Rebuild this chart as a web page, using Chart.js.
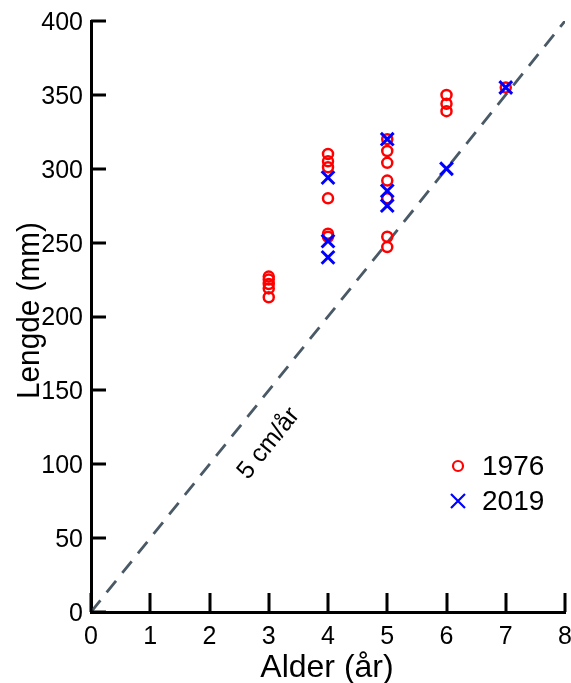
<!DOCTYPE html>
<html>
<head>
<meta charset="utf-8">
<script src="https://cdn.jsdelivr.net/npm/chart.js@4/dist/chart.umd.min.js"></script>
<style>
  html, body { margin: 0; padding: 0; background: #fff; }
  #wrap { width: 571px; height: 683px; position: relative; }
  canvas { display: block; }
</style>
</head>
<body>
<div id="wrap"><canvas id="c" width="571" height="683"></canvas></div>
<script>
// Fish length by age, two sampling years
const ages1976 = [3, 3, 3, 3, 3, 4, 4, 4, 4, 4, 4, 5, 5, 5, 5, 5, 5, 5, 6, 6, 6, 7];
const lengths1976 = [213, 219, 222, 225, 227, 310, 305, 301, 280, 256, 254, 320, 312, 304, 292, 280, 254, 247, 350, 344, 339, 355];
const ages2019 = [4, 4, 4, 5, 5, 5, 6, 7];
const lengths2019 = [294, 251, 240, 320, 285, 275, 300, 355];

// Reference growth line: 5 cm per year
const refAges = [0, 8];
const refLengths = [0, 400];
const refLabel = '5 cm/år';

const xTicks = [0, 1, 2, 3, 4, 5, 6, 7, 8];
const yTicks = [0, 50, 100, 150, 200, 250, 300, 350, 400];

const seriesNames = ['1976', '2019'];
const xTitle = 'Alder (år)';
const yTitle = 'Lengde (mm)';

const FONT = '"Liberation Sans", Arial, Helvetica, sans-serif';
const RED = '#ff0000';
const BLUE = '#0000ff';

const toPoints = (xs, ys) => xs.map((x, i) => ({ x: x, y: ys[i] }));

// Inward tick marks, tick labels, axis titles, line label and legend
const decorations = {
  id: 'decorations',
  afterDraw(chart) {
    const { ctx, chartArea: a, scales: { x, y } } = chart;
    ctx.save();
    ctx.strokeStyle = '#000';
    ctx.lineWidth = 3;
    ctx.beginPath();
    xTicks.forEach(v => {
      const px = Math.round(x.getPixelForValue(v));
      ctx.moveTo(px, a.bottom);
      ctx.lineTo(px, a.bottom - 19);
    });
    yTicks.forEach(v => {
      const py = Math.round(y.getPixelForValue(v));
      ctx.moveTo(a.left, py);
      ctx.lineTo(a.left + 15, py);
    });
    ctx.stroke();

    // tick labels
    ctx.fillStyle = '#000';
    ctx.font = '25px ' + FONT;
    ctx.textBaseline = 'middle';
    ctx.textAlign = 'center';
    xTicks.forEach(v => {
      ctx.fillText(String(v), x.getPixelForValue(v), a.bottom + 25);
    });
    ctx.textAlign = 'right';
    yTicks.forEach(v => {
      ctx.fillText(String(v), a.left - 8, y.getPixelForValue(v) + 2);
    });

    // axis titles
    ctx.font = '32px ' + FONT;
    ctx.textAlign = 'center';
    ctx.textBaseline = 'alphabetic';
    ctx.fillText(xTitle, (a.left + a.right) / 2 - 1, 677);
    ctx.save();
    ctx.translate(39, (a.top + a.bottom) / 2 - 6);
    ctx.rotate(-Math.PI / 2);
    ctx.scale(0.93, 1);
    ctx.fillText(yTitle, 0, 0);
    ctx.restore();

    // label along the reference line
    const ang = Math.atan2(
      y.getPixelForValue(refLengths[1]) - y.getPixelForValue(refLengths[0]),
      x.getPixelForValue(refAges[1]) - x.getPixelForValue(refAges[0]));
    ctx.save();
    ctx.translate(x.getPixelForValue(3.0), y.getPixelForValue(114));
    ctx.rotate(ang);
    ctx.font = '25px ' + FONT;
    ctx.textAlign = 'center';
    ctx.textBaseline = 'middle';
    ctx.fillText(refLabel, 0, 0);
    ctx.restore();

    // legend
    const lx = 458;
    const rows = [466, 501];
    ctx.lineWidth = 2.2;
    ctx.strokeStyle = RED;
    ctx.beginPath();
    ctx.arc(lx, rows[0], 5, 0, Math.PI * 2);
    ctx.stroke();
    ctx.strokeStyle = BLUE;
    ctx.lineWidth = 2.2;
    ctx.beginPath();
    ctx.moveTo(lx - 7, rows[1] - 7); ctx.lineTo(lx + 7, rows[1] + 7);
    ctx.moveTo(lx - 7, rows[1] + 7); ctx.lineTo(lx + 7, rows[1] - 7);
    ctx.stroke();
    ctx.fillStyle = '#000';
    ctx.font = '28px ' + FONT;
    ctx.textAlign = 'left';
    ctx.textBaseline = 'middle';
    ctx.fillText(seriesNames[0], 482, rows[0] + 1);
    ctx.fillText(seriesNames[1], 482, rows[1] + 1);
    ctx.restore();
  }
};

new Chart(document.getElementById('c'), {
  type: 'scatter',
  data: {
    datasets: [
      {
        label: seriesNames[1],
        data: toPoints(ages2019, lengths2019),
        pointStyle: 'crossRot',
        pointRadius: 9,
        pointHoverRadius: 9,
        borderColor: BLUE,
        backgroundColor: BLUE,
        pointBorderWidth: 3,
        order: 1
      },
      {
        label: seriesNames[0],
        data: toPoints(ages1976, lengths1976),
        pointStyle: 'circle',
        pointRadius: 5,
        pointHoverRadius: 5,
        borderColor: RED,
        backgroundColor: 'rgba(0,0,0,0)',
        pointBorderWidth: 2.5,
        order: 2
      },
      {
        type: 'line',
        label: refLabel,
        data: toPoints(refAges, refLengths),
        borderColor: '#4a5966',
        borderWidth: 2.8,
        borderDash: [15, 10],
        pointRadius: 0,
        fill: false,
        order: 3
      }
    ]
  },
  options: {
    responsive: false,
    animation: false,
    devicePixelRatio: 1,
    layout: { autoPadding: false, padding: { left: 0, top: 21, right: 6, bottom: 0 } },
    plugins: { legend: { display: false }, tooltip: { enabled: false } },
    scales: {
      x: {
        type: 'linear',
        min: 0, max: 8,
        afterFit(s) { s.height = 71; },
        afterBuildTicks(s) { s.ticks = xTicks.map(v => ({ value: v })); },
        grid: { display: true, drawOnChartArea: false, drawTicks: false },
        border: { display: true, color: '#000', width: 3 },
        ticks: { display: false }
      },
      y: {
        type: 'linear',
        min: 0, max: 400,
        afterFit(s) { s.width = 91; },
        afterBuildTicks(s) { s.ticks = yTicks.map(v => ({ value: v })); },
        grid: { display: true, drawOnChartArea: false, drawTicks: false },
        border: { display: true, color: '#000', width: 3 },
        ticks: { display: false }
      }
    }
  },
  plugins: [decorations]
});
</script>
</body>
</html>
